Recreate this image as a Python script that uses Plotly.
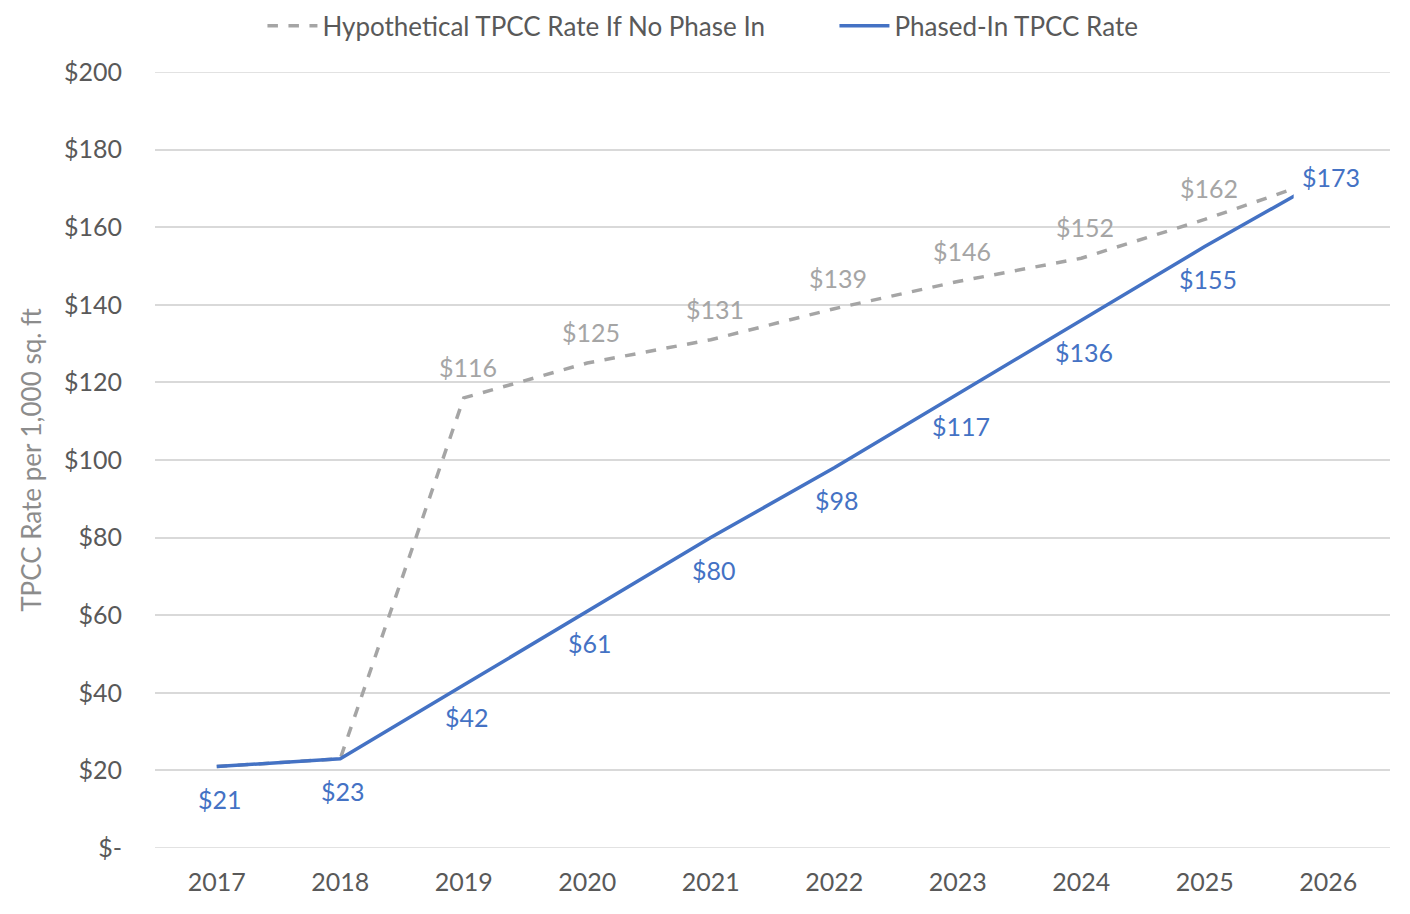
import plotly.graph_objects as go

years = [2017, 2018, 2019, 2020, 2021, 2022, 2023, 2024, 2025, 2026]
hypothetical = [21, 23, 116, 125, 131, 139, 146, 152, 162, 173]
phased_in = [21, 23, 42, 61, 80, 98, 117, 136, 155, 173]
# labels shown in the chart (None = no label)
hyp_labels = [None, None, "$116", "$125", "$131", "$139", "$146", "$152", "$162", None]
phase_labels = ["$21", "$23", "$42", "$61", "$80", "$98", "$117", "$136", "$155", "$173"]
y_ticks = [0, 20, 40, 60, 80, 100, 120, 140, 160, 180, 200]
y_ticktext = ["$-", "$20", "$40", "$60", "$80", "$100", "$120", "$140", "$160", "$180", "$200"]

BLUE = "#4472C4"
GRAY = "#A5A5A5"
GRID = "#D9D9D9"
FONT = "Lato"

fig = go.Figure()
fig.add_trace(go.Scatter(
    x=years, y=hypothetical, mode="lines", name="Hypothetical TPCC Rate If No Phase In",
    line=dict(color=GRAY, width=3.5, dash="dash"),
))
fig.add_trace(go.Scatter(
    x=years, y=phased_in, mode="lines", name="Phased-In TPCC Rate",
    line=dict(color=BLUE, width=3.5),
))

annotations = []
for x, y, t in zip(years, hypothetical, hyp_labels):
    if t:
        annotations.append(dict(x=x, y=y, text=t, showarrow=False, xshift=4, yshift=31,
                                font=dict(family=FONT, size=25, color=GRAY)))
for i, (x, y, t) in enumerate(zip(years, phased_in, phase_labels)):
    ys = 0 if i == len(years) - 1 else -32
    annotations.append(dict(x=x, y=y, text=t, showarrow=False, xshift=3, yshift=ys,
                            font=dict(family=FONT, size=25, color=BLUE)))

# the original plot clips the final segment just before the 2026 category
shapes = [dict(type="rect", xref="x", yref="y", x0=2025.72, x1=2026.4, y0=162, y1=178.5,
               fillcolor="white", line=dict(width=0), layer="above")]

# page body has an 8px margin, so the figure is sized/placed to compensate
fig.update_layout(
    width=1402, height=906,
    margin=dict(l=147, r=20, t=64, b=66, autoexpand=False),
    paper_bgcolor="white", plot_bgcolor="white",
    font=dict(family=FONT, color="#595959"),
    showlegend=True,
    legend=dict(orientation="h", x=0.087, xanchor="left", y=1.0595, yanchor="middle",
                font=dict(family=FONT, size=26, color="#595959"), itemwidth=50,
                entrywidth=507, traceorder="normal"),
    annotations=annotations,
    shapes=shapes,
)
fig.update_xaxes(
    range=[2016.5, 2026.5], tickmode="array", tickvals=years, ticktext=[str(y) for y in years],
    showgrid=False, zeroline=False, showline=False, ticks="",
    tickfont=dict(family=FONT, size=25, color="#595959"), ticklabelstandoff=17,
)
fig.update_yaxes(
    range=[0, 200], tickmode="array", tickvals=y_ticks, ticktext=y_ticktext,
    showgrid=True, gridcolor=GRID, gridwidth=1.5, zeroline=False, showline=False,
    tickfont=dict(family=FONT, size=25, color="#595959"), ticklabelstandoff=32,
    title=dict(text="TPCC Rate per 1,000 sq. ft", font=dict(family=FONT, size=26, color="#8C8C8C"),
               standoff=14),
)
# gridlines at the range ends
for v in (y_ticks[0], y_ticks[-1]):
    fig.add_hline(y=v, line=dict(color=GRID, width=1.5), layer="below")

fig.write_html("out.html")
